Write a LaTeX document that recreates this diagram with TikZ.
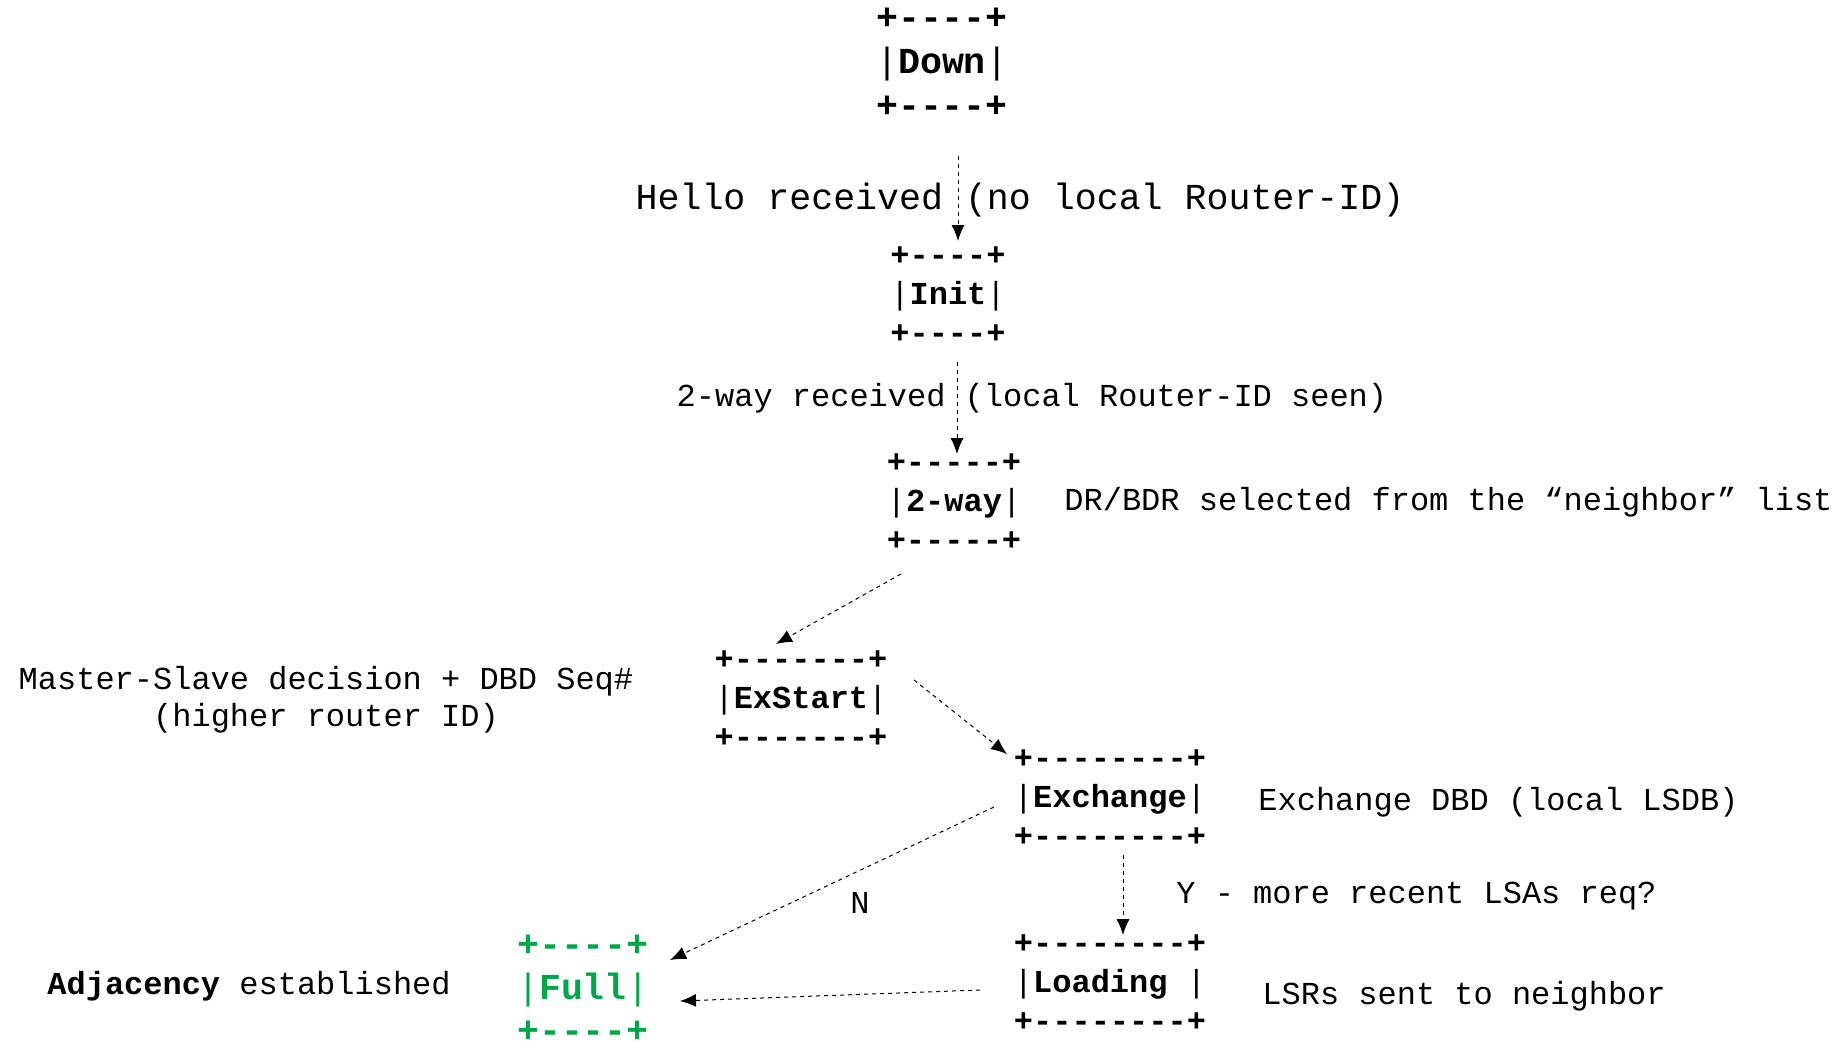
\documentclass[tikz,border=0pt]{standalone}
\usepackage{fontspec}
\setmonofont{Liberation Mono}
\usetikzlibrary{positioning,arrows.meta}
\definecolor{fullgreen}{RGB}{0,167,74}

\newcommand{\asciibox}[2]{\textbf{#1}\\|\textbf{#2}|\\\textbf{#1}}

\tikzset{
  state/.style={inner sep=0pt,align=center,font=\ttfamily\fontsize{16}{19.5}\selectfont},
  bigstate/.style={state,font=\ttfamily\fontsize{18.3}{22}\selectfont},
  note/.style={inner sep=0pt,align=center,font=\ttfamily\fontsize{16}{18.5}\selectfont},
  flow/.style={-{Latex[length=8pt,width=6.5pt]},dash pattern=on 2pt off 2pt,line width=0.5pt}
}

\begin{document}
\begin{tikzpicture}[x=0.5pt,y=-0.5pt]
    \useasboundingbox (0,0) rectangle (1844,1044);

    % states
    \node[bigstate] (down) at (942,63) {\asciibox{+----+}{Down}};
    \node[state] (init) at (948,295) {\asciibox{+----+}{Init}};
    \node[state] (twoway) at (954,502) {\asciibox{+-----+}{2-way}};
    \node[state] (exstart) at (801,699) {\asciibox{+-------+}{ExStart}};
    \node[state] (exchange) at (1110,798) {\asciibox{+--------+}{Exchange}};
    \node[state] (loading) at (1110,983) {\asciibox{+--------+}{Loading\ }};
    \node[bigstate,text=fullgreen,font=\ttfamily\fontsize{18.3}{21.5}\selectfont] (full) at (583,989) {\asciibox{+----+}{Full}};

    % notes
    \node[note,font=\ttfamily\fontsize{18.3}{22}\selectfont] (hello) at (1020,200) {Hello received (no local Router-ID)};
    \node[note] (seen) at (1032,398) {2-way received (local Router-ID seen)};
    \node[note,anchor=west] (drbdr) at (1064,502) {DR/BDR selected from the “neighbor” list};
    \node[note] (master) at (326,700) {Master-Slave decision + DBD Seq\#\\(higher router ID)};
    \node[note,anchor=west] (dbd) at (1258,802) {Exchange DBD (local LSDB)};
    \node[note,anchor=west] (yes) at (1176,896) {Y - more recent LSAs req?};
    \node[note,anchor=west] (lsr) at (1262,996) {LSRs sent to neighbor};
    \node[note,anchor=west] (adj) at (47,986) {\textbf{Adjacency} established};
    \node[note] (no) at (860,903) {N};

    \draw[flow] ([shift={(16,93)}]down.center) -- ([shift={(10,-54)}]init.center);
    \draw[flow] ([shift={(9,67)}]init.center) -- ([shift={(3,-48)}]twoway.center);
    \draw[flow] ([shift={(-53,72)}]twoway.center) -- ([shift={(-25,-55)}]exstart.center);
    \draw[flow] ([shift={(113,-19)}]exstart.center) -- ([shift={(-103,-44)}]exchange.center);
    \draw[flow] ([shift={(-116,9)}]exchange.center) -- ([shift={(87,-29)}]full.center);
    \draw[flow] ([shift={(13,57)}]exchange.center) -- ([shift={(13,-48)}]loading.center);
    \draw[flow] ([shift={(-130,7)}]loading.center) -- ([shift={(97,12)}]full.center);
\end{tikzpicture}
\end{document}
